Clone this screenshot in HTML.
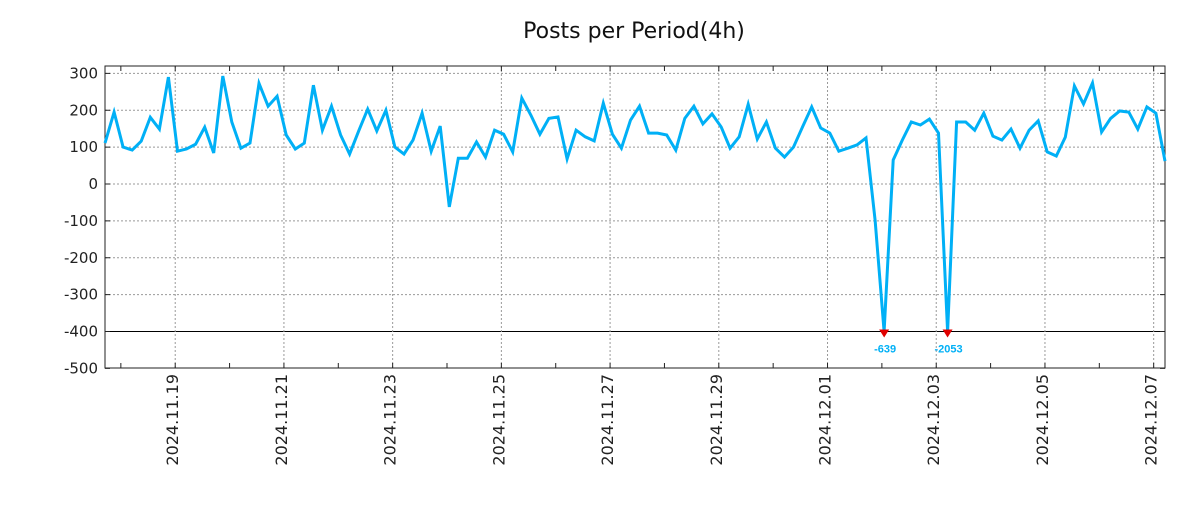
<!DOCTYPE html>
<html><head><meta charset="utf-8"><style>
body{margin:0;background:#fff;width:1200px;height:500px;overflow:hidden;font-family:"Liberation Sans","DejaVu Sans",sans-serif}
</style></head><body>
<svg id="chart" width="1200" height="500" xmlns="http://www.w3.org/2000/svg">
<text x="634" y="38" text-anchor="middle" font-size="22" fill="#111" font-family="DejaVu Sans, Liberation Sans, sans-serif">Posts per Period(4h)</text>
<g id="grid"></g><g id="axes"></g><g id="series"></g>
</svg>
<script>
const values = [111,195,100,92,116,181,149,290,89,95,108,154,84,293,168,97,111,273,211,238,133,95,111,268,146,211,133,81,144,203,144,200,100,81,119,192,89,157,
-62,70,70,114,73,146,135,87,233,187,135,178,182,68,146,128,117,219,135,97,173,211,138,138,133,92,178,211,163,190,155,97,128,216,122,168,97,73,100,155,209,152,
138,89,97,106,125,-98,-639,65,119,168,160,176,138,-2053,168,168,146,192,130,119,149,97,146,171,87,76,127,266,217,274,141,178,198,195,149,209,192,62];
const startHour = -31; // hours relative to 2024.11.19 00:00
const stepHours = 4;
const yTicks = [300,200,100,0,-100,-200,-300,-400,-500];
const dateLabels = ["2024.11.19","2024.11.21","2024.11.23","2024.11.25","2024.11.27","2024.11.29","2024.12.01","2024.12.03","2024.12.05","2024.12.07"];
const clipValue = -400;

const L=105,R=1165,T=66,B=368;
const ns="http://www.w3.org/2000/svg";
const tEnd = startHour + stepHours*(values.length-1);
const xs = h => L + (h-startHour)/(tEnd-startHour)*(R-L);
const ys = v => 184 + (0 - v)*(368-73)/800;
function mk(tag,attrs,parent){const e=document.createElementNS(ns,tag);for(const k in attrs)e.setAttribute(k,attrs[k]);parent.appendChild(e);return e;}
const grid=document.getElementById('grid'),axes=document.getElementById('axes'),series=document.getElementById('series');

yTicks.forEach(v=>{
  const y=ys(v);
  if(v!==-500){
    const g=mk('line',{x1:L,x2:R,y1:y,y2:y,stroke:v===clipValue?'#000':'#999','stroke-width':1,'stroke-dasharray':v===clipValue?'':'2,2'},grid);
    
    
  }
  const t=mk('line',{x1:L,x2:L+5,y1:y,y2:y,stroke:'#222'},axes);
  
  
  const t2=mk('line',{x1:R-5,x2:R,y1:y,y2:y,stroke:'#222'},axes);
  
  
  const lb=mk('text',{x:L-7,y:y+5,'text-anchor':'end','font-size':15,fill:'#222','font-family':'DejaVu Sans, Liberation Sans, sans-serif'},axes);
  lb.textContent=v;
  
  
});
for(let d=-1; d<=19; d++){
  const x=xs(d*24); if(x<L||x>R) continue;
  const t=mk('line',{x1:x,x2:x,y1:T,y2:T+5,stroke:'#222'},axes);
  
  
  const t2=mk('line',{x1:x,x2:x,y1:B-5,y2:B,stroke:'#222'},axes);
  
  
}
dateLabels.forEach((s,i)=>{
  const x=xs(i*48);
  const g=mk('line',{x1:x,x2:x,y1:T,y2:B,stroke:'#999','stroke-dasharray':'2,2'},grid);
  
  
  const lb=mk('text',{x:0,y:0,transform:`translate(${x+3},${B+6}) rotate(-90)`,'text-anchor':'end','font-size':16,fill:'#222','font-family':'DejaVu Sans, Liberation Sans, sans-serif'},axes);
  lb.textContent=s;
  
  
});
const fr=mk('rect',{x:L,y:T,width:R-L,height:B-T,fill:'none',stroke:'#222','stroke-width':1},axes);



const pts=values.map((v,i)=>xs(startHour+i*stepHours).toFixed(1)+','+ys(Math.max(v,clipValue)).toFixed(1)).join(' ');
const pl=mk('polyline',{points:pts,fill:'none',stroke:'#00b0f6','stroke-width':3,'stroke-linejoin':'miter'},series);


values.forEach((v,i)=>{
  if(v>=clipValue) return;
  const x=xs(startHour+i*stepHours), y=ys(clipValue);
  const m=mk('polygon',{points:`${x-5},${y-2} ${x+5},${y-2} ${x},${y+6}`,fill:'#e00000'},series);
  
  
  const lb=mk('text',{x:x+1,y:y+21,'text-anchor':'middle','font-size':11,'font-weight':'bold',fill:'#00b0f6'},series);
  lb.textContent=v;
  
  
});
</script>
</body></html>
